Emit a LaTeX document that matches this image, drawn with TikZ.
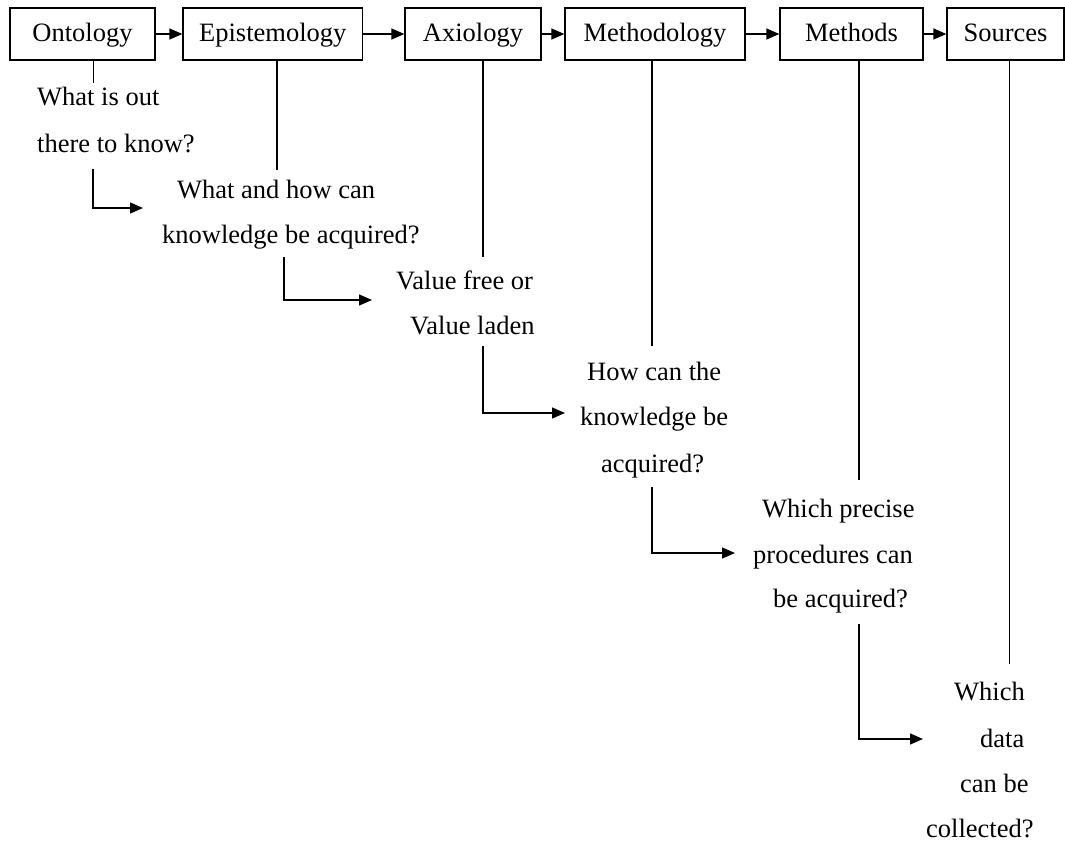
\documentclass[tikz,border=0pt]{standalone}
\usepackage{fontspec}
\setmainfont{Liberation Serif}
\usetikzlibrary{arrows.meta}
\begin{document}
\begin{tikzpicture}[x=1pt,y=-1pt,
  every node/.style={font=\fontsize{26.5}{32}\selectfont},
  box/.style={draw, line width=1.3pt, inner sep=0pt, minimum height=52pt,
              text height=20pt, text depth=4pt},
  txt/.style={anchor=base west, inner sep=0pt},
  link/.style={line width=1.3pt},
  arr/.style={line width=1.3pt, -{Triangle[length=13pt,width=11pt]}}]
\useasboundingbox (0,0) rectangle (1065,843);

% top row of boxes
\node[box, minimum width=145pt]   (onto) at (82.5,34)   {Ontology};
\node[box, minimum width=179.5pt] (epi)  at (272.75,34) {Epistemology};
\node[box, minimum width=136pt]   (axio) at (473,34)    {Axiology};
\node[box, minimum width=180pt]   (meth) at (655,34)    {Methodology};
\node[box, minimum width=143pt]   (mtds) at (851.5,34)  {Methods};
\node[box, minimum width=117pt]   (src)  at (1005.5,34) {Sources};

\draw[arr] (onto) -- (epi);
\draw[arr] (epi) -- (axio);
\draw[arr] (axio) -- (meth);
\draw[arr] (meth) -- (mtds);
\draw[arr] (mtds) -- (src);

% questions
\node[txt] (q1a) at (37,105)  {What is out};
\node[txt] (q1b) at (37,152)  {there to know?};
\node[txt] (q2a) at (177,198) {What and how can};
\node[txt] (q2b) at (162,243) {knowledge be acquired?};
\node[txt] (q3a) at (396,289) {Value free or};
\node[txt] (q3b) at (410,334) {Value laden};
\node[txt] (q4a) at (587,380) {How can the};
\node[txt] (q4b) at (580,425) {knowledge be};
\node[txt] (q4c) at (601,472) {acquired?};
\node[txt] (q5a) at (762,517) {Which precise};
\node[txt] (q5b) at (753,563) {procedures can};
\node[txt] (q5c) at (773,607) {be acquired?};
\node[txt] (q6a) at (954,700) {Which};
\node[txt] (q6b) at (980,747) {data};
\node[txt] (q6c) at (960,792) {can be};
\node[txt] (q6d) at (926,837) {collected?};

% drop lines from the boxes
\coordinate (v1) at (93.6,83);
\coordinate (v2) at (277,170);
\coordinate (v3) at (483,257);
\coordinate (v4) at (652,346);
\coordinate (v5) at (859,480);
\coordinate (v6) at (1009.5,664);
\draw[link] (onto.south -| v1) -- (v1);
\draw[link] (epi.south -| v2) -- (v2);
\draw[link] (axio.south -| v3) -- (v3);
\draw[link] (meth.south -| v4) -- (v4);
\draw[link] (mtds.south -| v5) -- (v5);
\draw[link] (src.south -| v6) -- (v6);

% elbow arrows from one question to the next
\coordinate (e1s) at (93,169);   \coordinate (e1t) at (143,208);
\coordinate (e2s) at (284,257);  \coordinate (e2t) at (372,300);
\coordinate (e3s) at (483,346);  \coordinate (e3t) at (565,413);
\coordinate (e4s) at (652,487);  \coordinate (e4t) at (735,553);
\coordinate (e5s) at (859,624);  \coordinate (e5t) at (923,739);
\draw[arr] (e1s) |- (e1t);
\draw[arr] (e2s) |- (e2t);
\draw[arr] (e3s) |- (e3t);
\draw[arr] (e4s) |- (e4t);
\draw[arr] (e5s) |- (e5t);
\end{tikzpicture}
\end{document}
